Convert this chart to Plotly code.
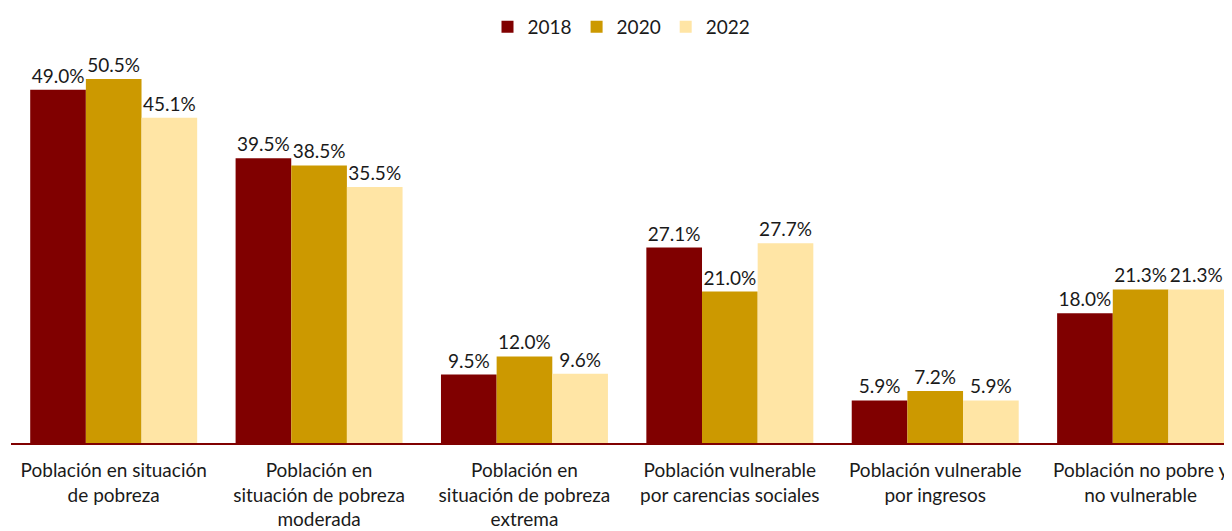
import plotly.graph_objects as go

categories = [
    "Población en situación<br>de pobreza",
    "Población en<br>situación de pobreza<br>moderada",
    "Población en<br>situación de pobreza<br>extrema",
    "Población vulnerable<br>por carencias sociales",
    "Población vulnerable<br>por ingresos",
    "Población no pobre y<br>no vulnerable",
]
years = ["2018", "2020", "2022"]
values_2018 = [49.0, 39.5, 9.5, 27.1, 5.9, 18.0]
values_2020 = [50.5, 38.5, 12.0, 21.0, 7.2, 21.3]
values_2022 = [45.1, 35.5, 9.6, 27.7, 5.9, 21.3]
colors = ["#800000", "#CC9900", "#FFE5A5"]

FONT = "Lato, 'Open Sans', sans-serif"

fig = go.Figure()
for year, vals, color in zip(years, [values_2018, values_2020, values_2022], colors):
    fig.add_trace(
        go.Bar(
            x=categories,
            y=vals,
            name=year,
            marker_color=color,
            marker_line_width=0,
            text=[f"{v:.1f}%" for v in vals],
            textposition="outside",
            textfont=dict(size=19, color="#1a1a1a", family=FONT),
            cliponaxis=False,
        )
    )

# the page body adds an 8px margin, so the figure is sized/offset to compensate
fig.update_layout(
    width=1224,
    height=523,
    barmode="group",
    bargap=0.187,
    bargroupgap=0,
    plot_bgcolor="white",
    paper_bgcolor="white",
    font=dict(family=FONT, size=19, color="#1a1a1a"),
    margin=dict(l=3, r=0, t=37, b=88, autoexpand=False),
    showlegend=True,
    legend=dict(
        orientation="h",
        x=0.5,
        xanchor="center",
        yref="container",
        y=1,
        yanchor="top",
        font=dict(size=19),
        itemwidth=30,
        traceorder="normal",
    ),
)
fig.update_xaxes(
    range=[-0.5, 5.445],
    showline=True,
    linecolor="#800000",
    linewidth=2,
    showgrid=False,
    ticks="",
    ticklabelstandoff=9,
    tickfont=dict(size=19),
)
fig.update_yaxes(range=[0, 55.2], visible=False, showgrid=False)

fig.write_html("out.html")
